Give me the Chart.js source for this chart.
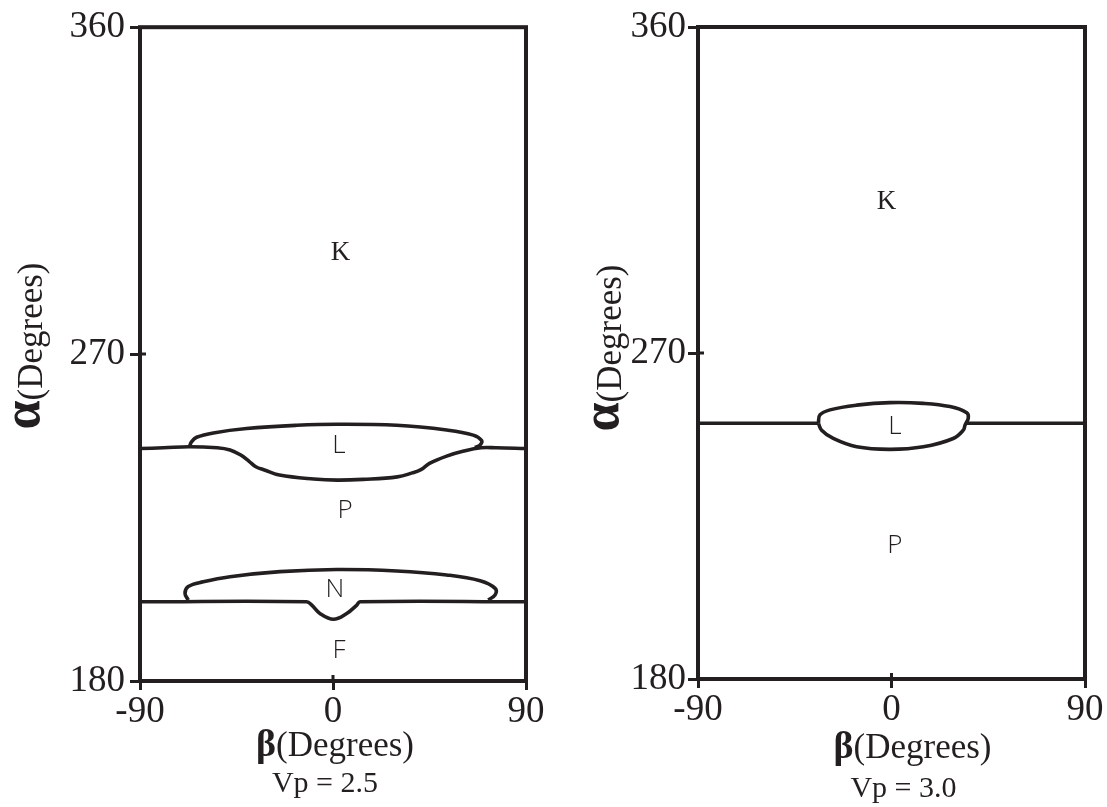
<!DOCTYPE html>
<html>
<head>
<meta charset="utf-8">
<title>Stability regions, Vp = 2.5 and Vp = 3.0</title>
<script src="https://cdn.jsdelivr.net/npm/chart.js@4.4.0/dist/chart.umd.min.js"></script>
<style>
  html, body { margin: 0; padding: 0; background: #ffffff; }
  #wrap { position: relative; width: 1107px; height: 807px; overflow: hidden; }
  canvas { position: absolute; top: 0; }
  #panelA { left: 0; }
  #panelB { left: 555px; }
</style>
</head>
<body>
<div id="wrap">
  <canvas id="panelA" width="555" height="807"></canvas>
  <canvas id="panelB" width="552" height="807"></canvas>
</div>
<script>
// Axis ticks (both panels)
const betaTicks = [-90, 0, 90];
const alphaTicks = [180, 270, 360];

// Vp = 2.5 : L/P boundary
const lpBeta25 = [-90, -79, -67, -54, -48, -43, -39, -36, -32, -25, -9, 2, 14, 30, 37, 41, 45, 53, 61, 69, 76, 90];
const lpAlpha25 = [244.0, 244.2, 244.5, 244.2, 243.6, 242.2, 240.4, 239.0, 238.1, 236.7, 235.6, 235.3, 235.5, 236.2, 237.3, 238.2, 239.9, 241.9, 243.3, 244.2, 244.2, 244.0];
// Vp = 2.5 : upper edge of the L pocket
const lTopBeta25 = [-67, -65.9, -63.6, -55.8, -40.3, -16.9, 1.7, 29.7, 53, 65.4, 69.3, 68.6, 66.2];
const lTopAlpha25 = [244.5, 245.9, 247.1, 248.3, 249.5, 250.4, 250.7, 250.4, 249.1, 247.7, 246.2, 245.0, 244.3];
// Vp = 2.5 : N/F boundary with the dip near beta = 0
const nfBeta25 = [-90, -12.3, -9.9, -6.1, 0.2, 6.4, 11.1, 12.6, 90];
const nfAlpha25 = [201.8, 201.8, 200.9, 198.6, 197.0, 198.6, 200.9, 201.8, 201.8];
// Vp = 2.5 : upper edge of the N pocket
const nTopBeta25 = [-67.5, -69, -67.5, -60.5, -48, -24.7, 1.7, 29.7, 53, 68.6, 75.6, 75.6, 72.4];
const nTopAlpha25 = [202.3, 204.1, 206.0, 207.3, 208.7, 210.1, 210.7, 210.3, 209.2, 207.6, 205.5, 203.7, 202.3];

// Vp = 3.0 : K/P boundary on both sides of the L loop
const kpLeftBeta30 = [-90, -34];
const kpLeftAlpha30 = [250.6, 250.6];
const kpRightBeta30 = [34.6, 90];
const kpRightAlpha30 = [250.6, 250.6];
// Vp = 3.0 : closed L loop
const lLoopBeta30 = [-34, -33.3, -28.6, -16.2, -0.7, 14.8, 27.2, 35, 35.7, 34.2, 33.4, 28.7, 14.8, -0.7, -16.2, -27.1, -32.5, -34];
const lLoopAlpha30 = [250.6, 252.9, 254.3, 255.6, 256.3, 256.1, 255.2, 253.5, 252.0, 250.1, 248.7, 246.4, 244.1, 243.4, 244.1, 246.4, 248.7, 250.6];

// Region letters
const regionNames25 = ['K', 'L', 'P', 'N', 'F'];
const regionBeta25 = [3.5, 2.8, 5.6, 0.9, 2.8];
const regionAlpha25 = [297.8, 244.9, 227.0, 205.3, 188.5];
const regionNames30 = ['K', 'L', 'P'];
const regionBeta30 = [-2.3, 1.6, 1.6];
const regionAlpha30 = [311.7, 249.6, 216.7];

const ink = '#231f20';
const serif = '"Liberation Serif", "Times New Roman", serif';
const sans = '"Open Sans", "Liberation Sans", sans-serif';

function points(betas, alphas) {
    return betas.map((b, i) => ({ x: b, y: alphas[i] }));
}

function curve(betas, alphas) {
    return {
        data: points(betas, alphas),
        showLine: true,
        borderColor: ink,
        borderWidth: 3.6,
        pointRadius: 0,
        pointHoverRadius: 0,
        tension: 0.4,
        fill: false
    };
}

// Writes a run of differently styled pieces centred on cx
function drawRun(ctx, parts, cx, baseline) {
    let total = 0;
    parts.forEach(p => {
        ctx.font = p.font;
        p.w = ctx.measureText(p.text).width;
        total += p.w;
    });
    let x = cx - total / 2;
    ctx.textAlign = 'left';
    ctx.textBaseline = 'alphabetic';
    parts.forEach(p => {
        ctx.font = p.font;
        ctx.fillText(p.text, x, baseline + (p.dy || 0));
        x += p.w;
    });
}

// Frame, inner tick stubs, region letters and axis titles
const panelDecor = {
    id: 'panelDecor',
    afterDatasetsDraw(chart, args, opts) {
        const { ctx, chartArea: a, scales: { x, y } } = chart;
        ctx.save();
        ctx.strokeStyle = ink;
        ctx.fillStyle = ink;

        ctx.lineWidth = 4;
        ctx.strokeRect(a.left, a.top, a.right - a.left, a.bottom - a.top);

        ctx.lineWidth = 3;
        ctx.beginPath();
        x.ticks.forEach(t => {
            if (t.value > x.min && t.value < x.max) {
                const px = x.getPixelForValue(t.value);
                ctx.moveTo(px, a.bottom);
                ctx.lineTo(px, a.bottom - 6);
            }
        });
        y.ticks.forEach(t => {
            if (t.value > y.min && t.value < y.max) {
                const py = y.getPixelForValue(t.value);
                ctx.moveTo(a.left, py);
                ctx.lineTo(a.left + 6, py);
            }
        });
        ctx.stroke();

        // the upper region letter is set in the serif face, the rest in a light sans
        ctx.textAlign = 'center';
        ctx.textBaseline = 'middle';
        opts.names.forEach((n, i) => {
            ctx.font = opts.serifNames.includes(n) ? '27px ' + serif : '300 26px ' + sans;
            ctx.fillText(n, x.getPixelForValue(opts.beta[i]), y.getPixelForValue(opts.alpha[i]));
        });

        const cx = (a.left + a.right) / 2;
        drawRun(ctx, [
            { text: 'β', font: 'bold 38px ' + serif },
            { text: '(Degrees)', font: '35px ' + serif }
        ], cx + opts.xTitleDx, opts.xTitleBase);

        ctx.font = '30px ' + serif;
        ctx.textAlign = 'center';
        ctx.fillText(opts.vp, cx + opts.vpDx, opts.vpBase);

        ctx.translate(opts.yTitleBase, opts.yTitleMid);
        ctx.rotate(-Math.PI / 2);
        drawRun(ctx, [
            { text: 'α', font: 'bold 52px ' + serif, dy: -3 },
            { text: '(Degrees)', font: '35px ' + serif }
        ], 0, 0);

        ctx.restore();
    }
};

function makePanel(canvasId, datasets, cfg) {
    const tickFont = { family: serif, size: 37 };
    return new Chart(document.getElementById(canvasId), {
        type: 'scatter',
        data: { datasets: datasets },
        options: {
            responsive: false,
            devicePixelRatio: 1,
            animation: false,
            events: [],
            layout: { padding: cfg.padding },
            plugins: {
                legend: { display: false },
                tooltip: { enabled: false },
                panelDecor: cfg.decor
            },
            scales: {
                x: {
                    type: 'linear',
                    min: -90,
                    max: 90,
                    afterBuildTicks: s => { s.ticks = betaTicks.map(v => ({ value: v })); },
                    afterFit: s => { s.height = cfg.xHeight; },
                    ticks: { font: tickFont, color: ink, padding: 0, maxRotation: 0, autoSkip: false },
                    grid: { display: true, drawOnChartArea: false, drawTicks: true, tickLength: 9, tickWidth: 3, tickColor: ink },
                    border: { display: false }
                },
                y: {
                    type: 'linear',
                    min: 180,
                    max: 360,
                    afterBuildTicks: s => { s.ticks = alphaTicks.map(v => ({ value: v })); },
                    afterFit: s => { s.width = cfg.yWidth; },
                    ticks: { font: tickFont, color: ink, padding: cfg.yTickPad, autoSkip: false },
                    grid: { display: true, drawOnChartArea: false, drawTicks: true, tickLength: 10, tickWidth: 3, tickColor: ink },
                    border: { display: false }
                }
            }
        },
        plugins: [panelDecor]
    });
}

makePanel('panelA', [
    curve(lpBeta25, lpAlpha25),
    curve(lTopBeta25, lTopAlpha25),
    curve(nfBeta25, nfAlpha25),
    curve(nTopBeta25, nTopAlpha25)
], {
    padding: { left: 0, top: 27, right: 29, bottom: 0 },
    yWidth: 140,
    xHeight: 126,
    yTickPad: 5,
    decor: {
        names: regionNames25, beta: regionBeta25, alpha: regionAlpha25,
        serifNames: ['K'],
        vp: 'Vp = 2.5',
        xTitleDx: 2, xTitleBase: 756,
        vpDx: -8, vpBase: 792,
        yTitleBase: 42, yTitleMid: 346
    }
});

makePanel('panelB', [
    curve(kpLeftBeta30, kpLeftAlpha30),
    curve(kpRightBeta30, kpRightAlpha30),
    curve(lLoopBeta30, lLoopAlpha30)
], {
    padding: { left: 0, top: 27, right: 22, bottom: 0 },
    yWidth: 143,
    xHeight: 128,
    yTickPad: 2,
    decor: {
        names: regionNames30, beta: regionBeta30, alpha: regionAlpha30,
        serifNames: ['K'],
        vp: 'Vp = 3.0',
        xTitleDx: 21, xTitleBase: 758,
        vpDx: 12, vpBase: 797,
        yTitleBase: 66, yTitleMid: 348
    }
});
</script>
</body>
</html>
